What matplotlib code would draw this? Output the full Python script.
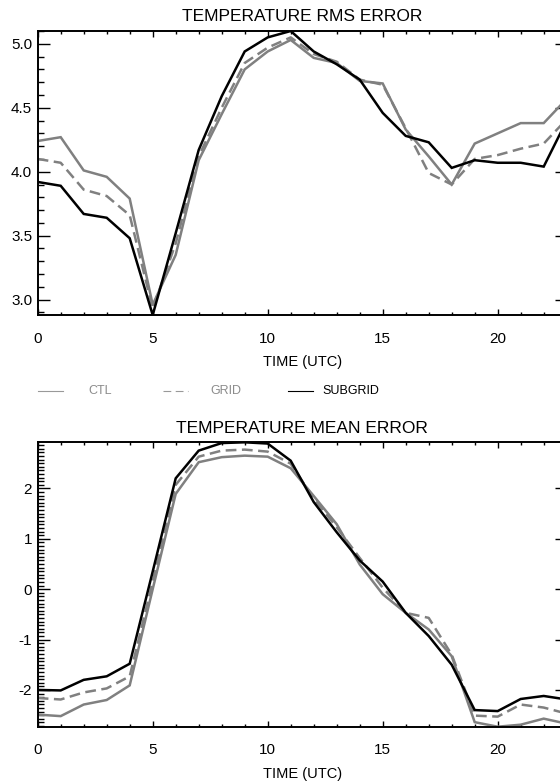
import matplotlib
matplotlib.use("Agg")
import matplotlib.pyplot as plt
from matplotlib.lines import Line2D
from matplotlib.ticker import MultipleLocator, FormatStrFormatter

# hourly verification scores, 0-23 UTC
hours = list(range(24))

ctl_rms = [4.24, 4.27, 4.01, 3.96, 3.79, 2.96, 3.35, 4.09, 4.45, 4.80, 4.94, 5.03,
           4.89, 4.85, 4.71, 4.69, 4.33, 4.12, 3.90, 4.22, 4.30, 4.38, 4.38, 4.57]
grid_rms = [4.10, 4.07, 3.86, 3.81, 3.66, 2.93, 3.44, 4.12, 4.50, 4.85, 4.97, 5.05,
            4.92, 4.86, 4.72, 4.68, 4.34, 3.99, 3.90, 4.10, 4.13, 4.18, 4.22, 4.41]
subgrid_rms = [3.92, 3.89, 3.67, 3.64, 3.48, 2.88, 3.52, 4.17, 4.59, 4.94, 5.05, 5.10,
               4.94, 4.84, 4.72, 4.46, 4.28, 4.23, 4.03, 4.09, 4.07, 4.07, 4.04, 4.40]

ctl_mean = [-2.49, -2.52, -2.29, -2.20, -1.91, 0.00, 1.89, 2.52, 2.62, 2.65, 2.63, 2.40,
            1.85, 1.29, 0.49, -0.10, -0.47, -0.80, -1.33, -2.64, -2.73, -2.69, -2.57, -2.67]
grid_mean = [-2.16, -2.19, -2.05, -1.97, -1.73, 0.15, 2.07, 2.63, 2.75, 2.77, 2.73, 2.49,
             1.80, 1.23, 0.62, 0.03, -0.47, -0.57, -1.30, -2.51, -2.53, -2.29, -2.35, -2.47]
subgrid_mean = [-2.00, -2.01, -1.80, -1.73, -1.48, 0.35, 2.20, 2.75, 2.90, 2.915, 2.89, 2.55,
                1.73, 1.13, 0.57, 0.15, -0.47, -0.93, -1.50, -2.40, -2.42, -2.18, -2.12, -2.19]

names = ["CTL", "GRID", "SUBGRID"]

plt.rcParams["font.family"] = ["Liberation Sans", "DejaVu Sans"]
plt.rcParams["axes.unicode_minus"] = False

W, H = 560, 783
gray = "#808080"
dash = (4.3, 2.2)


def box(left, top, right, bottom):
    # pixel box -> figure fraction; the original is cropped, so right runs past the edge
    return [left / W, 1 - bottom / H, (right - left) / W, (bottom - top) / H]


def draw_panel(ax, ctl, grid, subgrid, title, ymajor, yminor, fmt):
    ax.plot(hours, ctl, color=gray, lw=1.8, solid_joinstyle="miter")
    ln, = ax.plot(hours, grid, color=gray, lw=1.8)
    ln.set_dashes(dash)
    ax.plot(hours, subgrid, color="black", lw=1.8, solid_joinstyle="miter")

    allv = ctl + grid + subgrid
    ax.set_ylim(min(allv), max(allv))
    ax.set_xlim(0, 23)

    ax.xaxis.set_major_locator(MultipleLocator(5))
    ax.xaxis.set_minor_locator(MultipleLocator(1))
    ax.yaxis.set_major_locator(MultipleLocator(ymajor))
    ax.yaxis.set_minor_locator(MultipleLocator(yminor))
    ax.yaxis.set_major_formatter(FormatStrFormatter(fmt))

    ax.tick_params(which="both", direction="in", top=True, right=True,
                   width=1.0, labelsize=11)
    ax.tick_params(axis="x", which="major", length=4.1, pad=12)
    ax.tick_params(axis="x", which="minor", length=2.2)
    ax.tick_params(axis="y", which="major", length=8.4, pad=4)
    ax.tick_params(axis="y", which="minor", length=4.3)
    for sp in ax.spines.values():
        sp.set_linewidth(1.4)

    ax.set_title(title, fontsize=12.5, pad=7)
    ax.set_xlabel("TIME (UTC)", fontsize=10.5, labelpad=7)


def draw_key(fig):
    y = 1 - 391 / H
    colors = ["#999999", "#999999", "black"]
    text_colors = ["#8c8c8c", "#8c8c8c", "black"]
    for i, name in enumerate(names):
        x0 = 37.5 + 125 * i
        ln = Line2D([x0 / W, (x0 + 25) / W], [y, y], transform=fig.transFigure,
                    color=colors[i], lw=0.8)
        if name == "GRID":
            ln.set_dashes((7, 4))
        fig.add_artist(ln)
        fig.text((x0 + 63) / W, y, name, color=text_colors[i], fontsize=9,
                 ha="center", va="center")


def main():
    fig = plt.figure(figsize=(W / 100, H / 100), dpi=100)
    ax1 = fig.add_axes(box(37.7, 31, 566.7, 315))
    ax2 = fig.add_axes(box(37.7, 442.3, 566.7, 726.7))

    draw_panel(ax1, ctl_rms, grid_rms, subgrid_rms, "TEMPERATURE RMS ERROR",
               0.5, 0.1, "%.1f")
    draw_panel(ax2, ctl_mean, grid_mean, subgrid_mean, "TEMPERATURE MEAN ERROR",
               1, 1.0 / 14, "%d")
    draw_key(fig)

    fig.savefig("out.png", dpi=100)


main()
